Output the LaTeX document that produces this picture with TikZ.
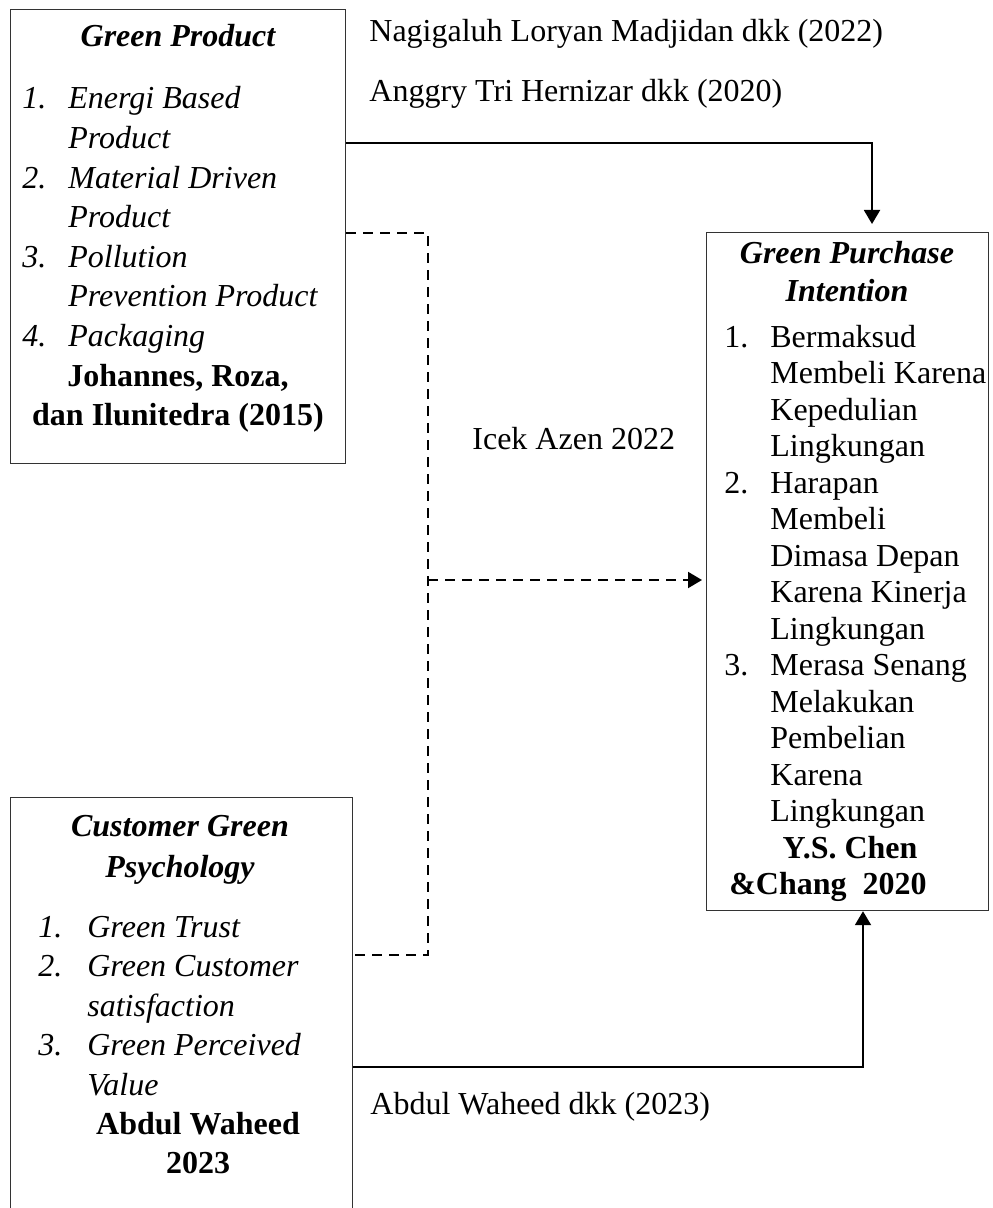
\documentclass[tikz,border=0pt]{standalone}
\usepackage{fontspec}
\setmainfont{Liberation Serif}
\usetikzlibrary{arrows.meta,calc}
\newcommand\myfs[1]{\fontsize{16pt}{#1}\selectfont}
\begin{document}
\begin{tikzpicture}[x=0.5pt,y=-0.5pt,
  box/.style={draw=black!80, line width=0.6pt, anchor=north west, inner sep=0pt},
  txt/.style={inner sep=0pt, font=\myfs{19.8pt}},
  conn/.style={line width=1pt, black},
  dconn/.style={conn, dash pattern=on 5pt off 3.5pt},
  tip/.style={-{Triangle[length=7pt,width=8pt]}}]
\path[use as bounding box] (0,0) rectangle (992,1208);
\clip (0,0) rectangle (992,1208);

% boxes
\node[box, minimum width=167.5pt, minimum height=227pt] (gp) at (10,9) {};
\node[box, minimum width=141pt, minimum height=339pt] (gpi) at (706,232) {};
\node[box, minimum width=171pt, minimum height=212pt] (cgp) at (10,797) {};

% Green Product
\node[txt, anchor=base] (gph) at (178,47) {\bfseries\itshape Green Product};
\node[txt, anchor=base west] (gpl) at (22,109) {\itshape\begin{tabular}[t]{@{}p{23pt}@{}l@{}}
1. & Energi Based\\
   & Product\\
2. & Material Driven\\
   & Product\\
3. & Pollution\\
   & Prevention Product\\
4. & Packaging
\end{tabular}};
\node[txt, anchor=base] (gpc) at (178,386) {\bfseries\begin{tabular}[t]{@{}c@{}}
Johannes, Roza,\\
dan Ilunitedra (2015)
\end{tabular}};

% Green Purchase Intention
\node[txt, anchor=base, font=\myfs{18.5pt}] (gpih) at (847,264) {\bfseries\itshape\begin{tabular}[t]{@{}c@{}}
Green Purchase\\
Intention
\end{tabular}};
\node[txt, anchor=base west, font=\myfs{18.25pt}] (gpil) at (724,347) {\begin{tabular}[t]{@{}p{23pt}@{}l@{}}
1. & Bermaksud\\
   & Membeli Karena\\
   & Kepedulian\\
   & Lingkungan\\
2. & Harapan\\
   & Membeli\\
   & Dimasa Depan\\
   & Karena Kinerja\\
   & Lingkungan\\
3. & Merasa Senang\\
   & Melakukan\\
   & Pembelian\\
   & Karena\\
   & Lingkungan
\end{tabular}};
\node[txt, anchor=base] (gpic1) at (850,858) {\bfseries Y.S. Chen};
\node[txt, anchor=base] (gpic2) at (828,894) {\bfseries \&Chang\ \ 2020};

% Customer Green Psychology
\node[txt, anchor=base, font=\myfs{20.5pt}] (cgph) at (180,836) {\bfseries\itshape\begin{tabular}[t]{@{}c@{}}
Customer Green\\
Psychology
\end{tabular}};
\node[txt, anchor=base west, font=\myfs{19.75pt}] (cgpl) at (38,937) {\itshape\begin{tabular}[t]{@{}p{24.5pt}@{}l@{}}
1. & Green Trust\\
2. & Green Customer\\
   & satisfaction\\
3. & Green Perceived\\
   & Value
\end{tabular}};
\node[txt, anchor=base, font=\myfs{19.75pt}] (cgpc) at (198,1134) {\bfseries\begin{tabular}[t]{@{}c@{}}
Abdul Waheed\\
2023
\end{tabular}};

% labels
\node[txt, anchor=base west] (l1) at (369,42) {Nagigaluh Loryan Madjidan dkk (2022)};
\node[txt, anchor=base west] (l2) at (369,102) {Anggry Tri Hernizar dkk (2020)};
\node[txt, anchor=base west] (l3) at (472,449) {Icek Azen 2022};
\node[txt, anchor=base west] (l4) at (370,1114) {Abdul Waheed dkk (2023)};

% connectors
\coordinate (c1) at (872,143);
\draw[conn, tip] ($(gp.north east)+(0,134)$) -- (c1) -- ($(gpi.north -| c1)+(0,-8)$);

\coordinate (j1) at (428,233);
\coordinate (j2) at (428,955);
\coordinate (j3) at (428,580);
\draw[dconn] ($(gp.north east)+(0,224)$) -- (j1) -- (j2) -- ($(cgp.north east)+(0,158)$);
\draw[dconn, tip] (j3) -- ($(gpi.west |- j3)+(-4,0)$);

\coordinate (c4) at (863,1067);
\draw[conn, tip] ($(cgp.north east)+(0,270)$) -- (c4) -- (c4 |- gpi.south);
\end{tikzpicture}
\end{document}
